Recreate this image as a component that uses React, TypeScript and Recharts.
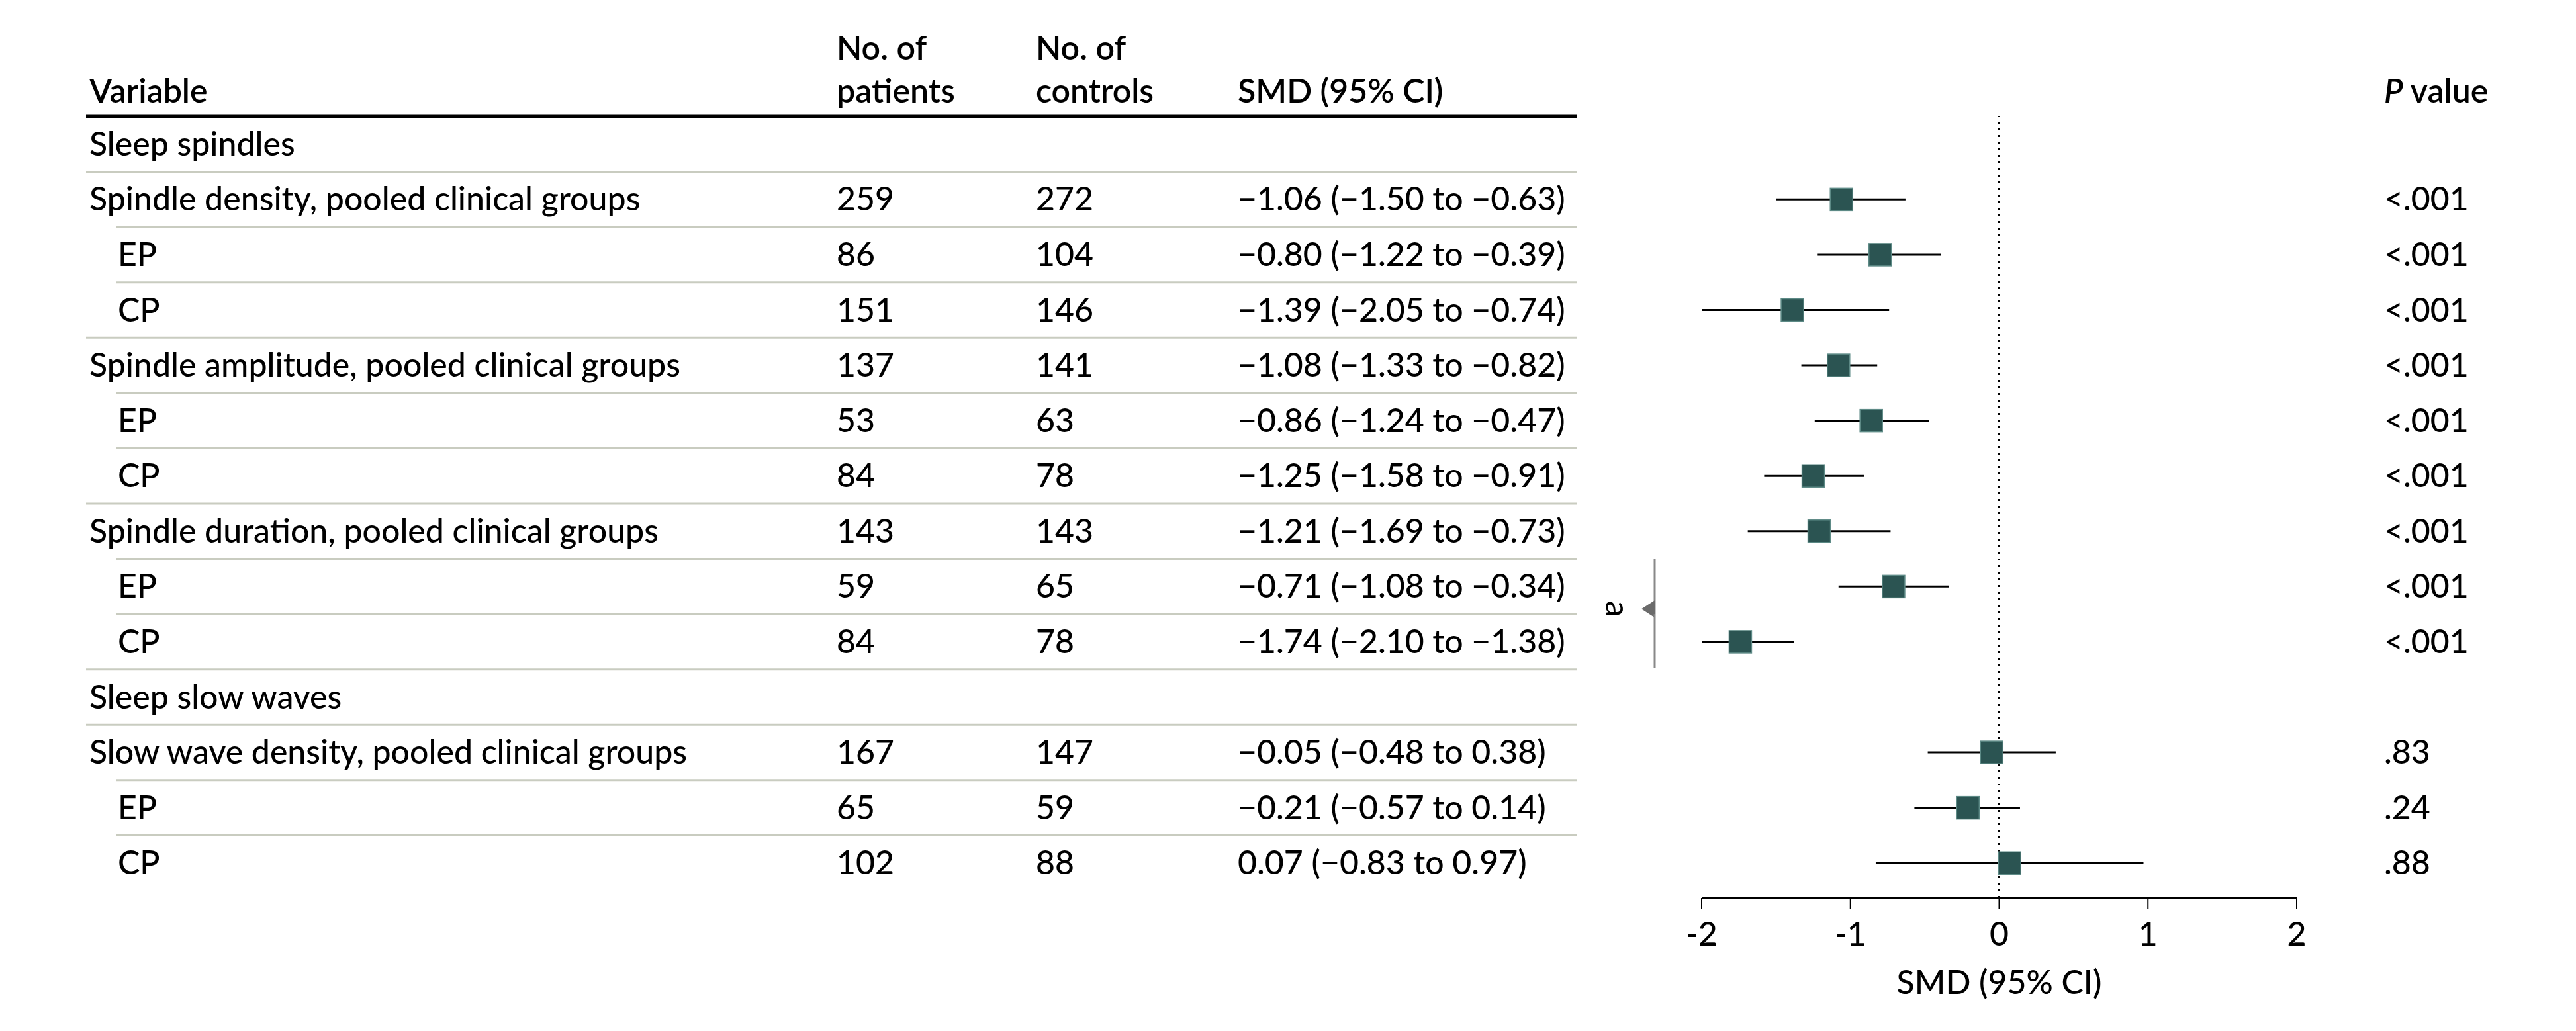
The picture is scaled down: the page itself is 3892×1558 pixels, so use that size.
import { ScatterChart, Scatter, XAxis, YAxis, ErrorBar, ReferenceLine } from "recharts"

const rowLabels = [
  "Sleep spindles",
  "Spindle density, pooled clinical groups",
  "EP",
  "CP",
  "Spindle amplitude, pooled clinical groups",
  "EP",
  "CP",
  "Spindle duration, pooled clinical groups",
  "EP",
  "CP",
  "Sleep slow waves",
  "Slow wave density, pooled clinical groups",
  "EP",
  "CP",
]
const patients = [null, 259, 86, 151, 137, 53, 84, 143, 59, 84, null, 167, 65, 102]
const controls = [null, 272, 104, 146, 141, 63, 78, 143, 65, 78, null, 147, 59, 88]
const smd = [null, -1.06, -0.8, -1.39, -1.08, -0.86, -1.25, -1.21, -0.71, -1.74, null, -0.05, -0.21, 0.07]
const ciLow = [null, -1.5, -1.22, -2.05, -1.33, -1.24, -1.58, -1.69, -1.08, -2.1, null, -0.48, -0.57, -0.83]
const ciHigh = [null, -0.63, -0.39, -0.74, -0.82, -0.47, -0.91, -0.73, -0.34, -1.38, null, 0.38, 0.14, 0.97]
const pValues = [null, "<.001", "<.001", "<.001", "<.001", "<.001", "<.001", "<.001", "<.001", "<.001", null, ".83", ".24", ".88"]
const xTicks = [-2, -1, 0, 1, 2]
const xDomain = [-2, 2]
const bracketRows = [8, 9]

const FONT = "Lato, 'Noto Sans', sans-serif"
const FS = 50
const W = 3876
const H = 1542
const PLOT_TOP = 168
const PLOT_BOTTOM = 1349
const PAD_BOTTOM = 11
const ROW_H = (PLOT_BOTTOM - PAD_BOTTOM - PLOT_TOP) / rowLabels.length

const COL = { variable: 127, indent: 170, patients: 1256, controls: 1557, smd: 1862, p: 3594 }
const RULE = { x0: 122, x0Indent: 168, x1: 2374 }
const SEP_COLOR = "#c9ccc0"
const MARK = "#2b5452"

const isSub = (i: number) => rowLabels[i] === "EP" || rowLabels[i] === "CP"
const fmt = (v: number) => v.toFixed(2).replace("-", "\u2212")

// CI whiskers are cut at the axis ends, as in the printed figure
const data = smd
  .map((v, i) =>
    v === null
      ? null
      : {
          row: i,
          smd: v,
          err: [v - Math.max(ciLow[i] as number, xDomain[0]), Math.min(ciHigh[i] as number, xDomain[1]) - v],
        }
  )
  .filter(Boolean)

function RowTick(props: any) {
  const { y, payload } = props
  const i = payload.value as number
  const textProps = { fontFamily: FONT, fontSize: FS, fill: "#000", fontWeight: 500 }
  const headProps = { ...textProps, fontWeight: 600 }
  const base = y + 17
  const top = y - ROW_H / 2
  const v = smd[i]
  return (
    <g>
      {i === 0 ? (
        <g>
          <line x1={RULE.x0} x2={RULE.x1} y1={top} y2={top} stroke="#000" strokeWidth={5} />
          <text {...headProps} x={COL.variable} y={y - 63}>Variable</text>
          <text {...headProps} x={COL.patients} y={y - 128}>No. of</text>
          <text {...headProps} x={COL.patients} y={y - 63}>patients</text>
          <text {...headProps} x={COL.controls} y={y - 128}>No. of</text>
          <text {...headProps} x={COL.controls} y={y - 63}>controls</text>
          <text {...headProps} x={COL.smd} y={y - 63}>SMD (95% CI)</text>
          <text {...headProps} x={COL.p} y={y - 63}>
            <tspan fontStyle="italic">P</tspan> value
          </text>
        </g>
      ) : (
        <line
          x1={isSub(i) ? RULE.x0Indent : RULE.x0}
          x2={RULE.x1}
          y1={top}
          y2={top}
          stroke={SEP_COLOR}
          strokeWidth={3}
        />
      )}
      <text {...textProps} x={isSub(i) ? COL.indent : COL.variable} y={base}>
        {rowLabels[i]}
      </text>
      {patients[i] !== null && (
        <text {...textProps} x={COL.patients} y={base}>{patients[i]}</text>
      )}
      {controls[i] !== null && (
        <text {...textProps} x={COL.controls} y={base}>{controls[i]}</text>
      )}
      {v !== null && (
        <text {...textProps} x={COL.smd} y={base}>
          {`${fmt(v)} (${fmt(ciLow[i] as number)} to ${fmt(ciHigh[i] as number)})`}
        </text>
      )}
      {pValues[i] !== null && (
        <text {...textProps} x={COL.p} y={base}>{pValues[i]}</text>
      )}
      {bracketRows.includes(i) && (
        <g>
          <line
            x1={2492}
            x2={2492}
            y1={top}
            y2={i === bracketRows[0] ? y + ROW_H / 2 : y + ROW_H / 2 - 2}
            stroke="#888"
            strokeWidth={3}
          />
          {i === bracketRows[0] && (
            <g>
              <polygon
                points={`2472,${y + ROW_H / 2 - 8} 2492,${y + ROW_H / 2 - 21} 2492,${y + ROW_H / 2 + 5}`}
                fill="#6b6b6b"
              />
              <text
                {...textProps}
                fontWeight={400}
                x={2437}
                y={y + ROW_H / 2 - 8}
                textAnchor="middle"
                dominantBaseline="central"
                transform={`rotate(90, 2437, ${y + ROW_H / 2 - 8})`}
              >
                a
              </text>
            </g>
          )}
        </g>
      )}
    </g>
  )
}

function Square(props: any) {
  const { cx, cy } = props
  const s = 34
  return <rect x={cx - s / 2} y={cy - s / 2} width={s} height={s} fill={MARK} stroke="#5d8a86" strokeWidth={1.5} />
}

export default function App() {
  return (
    <div style={{ width: W, height: H, background: "#fff" }}>
      <ScatterChart width={W} height={H} margin={{ top: PLOT_TOP, right: 414, bottom: 33, left: 0 }}>
        <XAxis
          type="number"
          dataKey="smd"
          domain={xDomain}
          allowDataOverflow
          ticks={xTicks}
          tickSize={16}
          tickMargin={20}
          height={160}
          axisLine={{ stroke: "#000", strokeWidth: 3 }}
          tickLine={{ stroke: "#000", strokeWidth: 2 }}
          tick={{ fontFamily: FONT, fontSize: FS, fill: "#000", fontWeight: 500 }}
          label={(p: any) => {
            const vb = p.viewBox
            return (
              <text
                x={vb.x + vb.width / 2}
                y={vb.y + 145}
                textAnchor="middle"
                fontFamily={FONT}
                fontSize={FS}
                fontWeight={500}
                fill="#000"
              >
                SMD (95% CI)
              </text>
            )
          }}
        />
        <YAxis
          type="number"
          dataKey="row"
          domain={[-0.5, rowLabels.length - 0.5]}
          reversed
          ticks={rowLabels.map((_, i) => i)}
          interval={0}
          padding={{ top: 0, bottom: PAD_BOTTOM }}
          width={2563}
          axisLine={false}
          tickLine={false}
          tick={<RowTick />}
        />
        <ReferenceLine x={0} stroke="#000" strokeWidth={3} strokeDasharray="3 7" />
        <Scatter data={data as any[]} shape={<Square />} isAnimationActive={false}>
          <ErrorBar dataKey="err" direction="x" width={0} stroke="#000" strokeWidth={3} />
        </Scatter>
      </ScatterChart>
    </div>
  )
}
